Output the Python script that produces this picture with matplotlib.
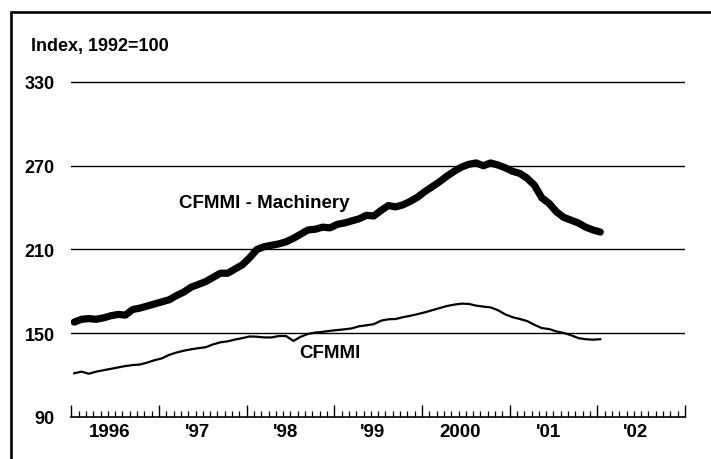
"""Machinery cost index chart (CFMMI vs CFMMI - Machinery), monthly 1996-2002."""

import matplotlib
matplotlib.use("Agg")
import matplotlib.pyplot as plt
from matplotlib.lines import Line2D
import numpy as np

plt.rcParams["font.family"] = ["Liberation Sans", "DejaVu Sans"]
plt.rcParams["font.weight"] = "bold"

# monthly values, Jan 1996 .. Jan 2002
machinery = [
    158, 160, 160.5, 160, 161, 162.5, 163.5, 163, 167, 168, 169.5, 171,
    172.5, 174, 177, 179.5, 183, 185, 187, 190, 193, 193, 196, 199,
    204, 210, 212, 213, 214, 215.5, 218, 221, 224, 224.5, 226, 225.5,
    228, 229, 230.5, 232, 234.5, 234, 238, 241.5, 240.5, 242, 244.5, 247.5,
    251.5, 255, 258.5, 262.5, 266, 269, 271, 272, 270, 272, 270.5, 268.5,
    266, 264.5, 261, 256, 247, 243, 237, 233, 231, 229, 226, 224,
    222.5,
]
cfmmi = [
    121.3, 122.5, 121, 122.5, 123.5, 124.5, 125.5, 126.5, 127.2, 127.6, 129, 130.7,
    132, 134.5, 136.2, 137.5, 138.5, 139.3, 140, 142, 143.5, 144.2, 145.5, 146.5,
    147.7, 147.5, 147, 147, 148, 148, 144.5, 147.5, 149.5, 150.5, 151, 151.7,
    152.3, 152.8, 153.5, 155, 155.7, 156.5, 159, 160, 160.2, 161.5, 162.5, 163.7,
    165, 166.5, 168, 169.5, 170.5, 171.2, 171, 169.8, 169.1, 168.5, 166.5, 163.5,
    161.5, 160.2, 158.7, 156, 153.7, 153, 151.3, 150.2, 148.6, 146.5, 145.7, 145.4,
    145.7,
]
years = [1996, 1997, 1998, 1999, 2000, 2001, 2002]
year_labels = ["1996", "'97", "'98", "'99", "2000", "'01", "'02"]
y_ticks = [90, 150, 210, 270, 330]

t = 1996 + (np.arange(len(machinery)) + 0.4) / 12

fig = plt.figure(figsize=(7.11, 4.60), dpi=100)
ax = fig.add_axes([71.3 / 711, 1 - 418 / 460, (685 - 71.3) / 711, (418 - 76) / 460])

# outer frame: only the left and top edges fall inside the picture
x0, y0 = 11 / 711, 1 - 12.7 / 460
fig.add_artist(Line2D([x0, x0], [-0.05, y0], transform=fig.transFigure,
                      color="black", linewidth=1.9, solid_capstyle="projecting"))
fig.add_artist(Line2D([x0, 1.0], [y0, y0], transform=fig.transFigure,
                      color="black", linewidth=1.9, solid_capstyle="butt"))

for v in y_ticks[1:]:
    ax.axhline(v, color="black", linewidth=1.0, zorder=1)

ax.plot(t, machinery, color="black", linewidth=5.2, solid_capstyle="round",
        solid_joinstyle="round", zorder=3)
ax.plot(t, cfmmi, color="black", linewidth=1.6, zorder=3)

ax.set_xlim(1996, 2003)
ax.set_ylim(90, 335)

for s in ["top", "right", "left"]:
    ax.spines[s].set_visible(False)
ax.spines["bottom"].set_linewidth(1.2)

ax.set_yticks(y_ticks)
ax.set_yticklabels([str(v) for v in y_ticks])
ax.tick_params(axis="y", length=0, pad=12, labelsize=13)

ax.set_xticks(years + [2003])
ax.set_xticks(1996 + np.arange(1, 84) / 12, minor=True)
ax.set_xticklabels([])
ax.tick_params(axis="x", which="major", direction="in", length=8.4, width=1.0)
ax.tick_params(axis="x", which="minor", direction="in", length=4.3, width=0.9)

for yr, lab in zip(years, year_labels):
    ax.text(yr + 0.44, 79.6, lab, ha="center", va="center", fontsize=13.5,
            fontweight="bold", clip_on=False)

fig.text(30.7 / 711, 1 - 46.5 / 460, "Index, 1992=100", ha="left", va="center",
         fontsize=13, fontweight="bold")

fig.text(264 / 711, 1 - 203 / 460, "CFMMI - Machinery", ha="center", va="center",
         fontsize=13.5, fontweight="bold")
fig.text(330 / 711, 1 - 354 / 460, "CFMMI", ha="center", va="center",
         fontsize=13.5, fontweight="bold")

fig.savefig("out.png", dpi=100, facecolor="white")
plt.close(fig)
